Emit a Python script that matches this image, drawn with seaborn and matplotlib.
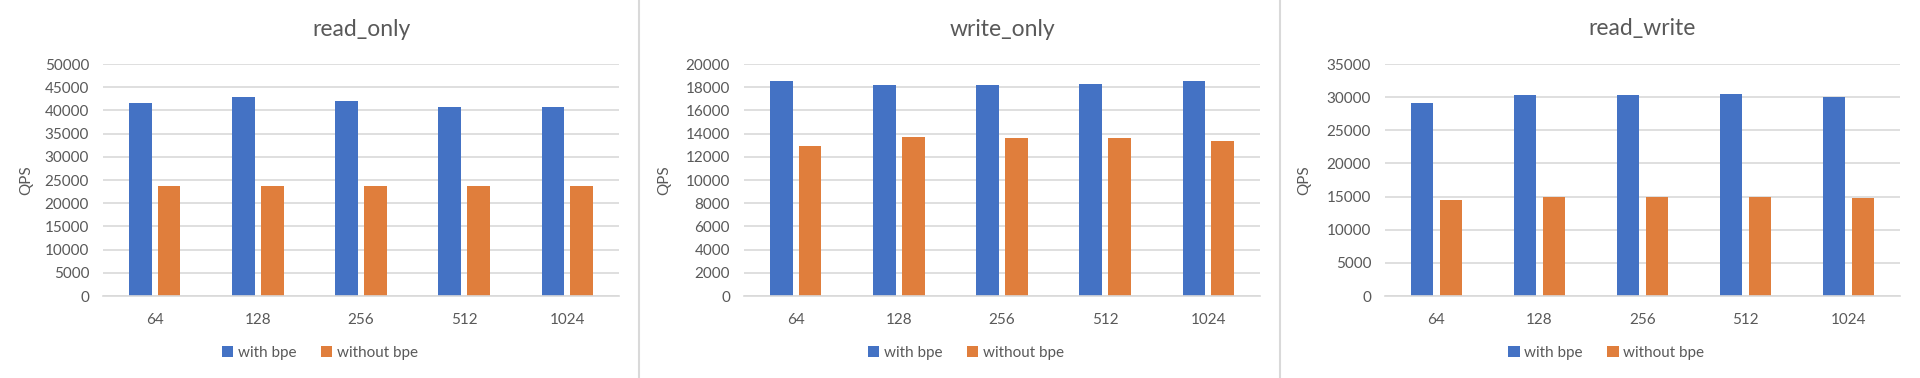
import numpy as np
import pandas as pd
import matplotlib
matplotlib.use("Agg")
import matplotlib.pyplot as plt
import seaborn as sns
from matplotlib.lines import Line2D

# ---- data ----
categories = ["64", "128", "256", "512", "1024"]
series_names = ["with bpe", "without bpe"]

read_only_with = [41500, 42800, 42100, 40800, 40800]
read_only_without = [23800, 23800, 23800, 23800, 23800]

write_only_with = [18560, 18220, 18220, 18300, 18560]
write_only_without = [12950, 13730, 13640, 13640, 13380]

read_write_with = [29160, 30370, 30370, 30520, 30070]
read_write_without = [14500, 14960, 14960, 14960, 14810]

panel_titles = ["read_only", "write_only", "read_write"]
y_max = [50000, 20000, 35000]
y_step = [5000, 2000, 5000]

panels = [
    (read_only_with, read_only_without),
    (write_only_with, write_only_without),
    (read_write_with, read_write_without),
]

colors = ["#4472C4", "#E07E3C"]
text_color = "#595959"
grid_color = "#D9D9D9"

sns.set_theme(style="white")
plt.rcParams["font.family"] = ["Lato", "DejaVu Sans"]

W, H = 1920, 378
fig = plt.figure(figsize=(W / 100, H / 100), dpi=100)
fig.patch.set_facecolor("white")

# axes boxes in pixels: (left, right, top, bottom)
boxes = [(103, 619, 64, 296), (744, 1260, 64, 296), (1385, 1900, 64, 296)]
ylabel_x = [33, 671, 1311]

for i, (box, (s_with, s_without)) in enumerate(zip(boxes, panels)):
    l, r, t, b = box
    ax = fig.add_axes([l / W, (H - b) / H, (r - l) / W, (b - t) / H])
    df = pd.DataFrame({
        "cat": categories * 2,
        "val": list(s_with) + list(s_without),
        "series": [series_names[0]] * 5 + [series_names[1]] * 5,
    })
    sns.barplot(data=df, x="cat", y="val", hue="series", order=categories,
                hue_order=series_names, palette=colors, width=0.56, gap=0.21,
                saturation=1, ax=ax, legend=True, edgecolor="none")
    ax.set_xlim(-0.5, 4.5)
    ax.set_ylim(0, y_max[i])
    ax.set_yticks(np.arange(0, y_max[i] + 1, y_step[i]))
    ax.yaxis.grid(True, color=grid_color, linewidth=1.2)
    ax.set_axisbelow(True)
    for sp in ["left", "right", "top"]:
        ax.spines[sp].set_visible(False)
    ax.spines["bottom"].set_color(grid_color)
    ax.spines["bottom"].set_linewidth(1.2)
    ax.tick_params(axis="both", length=0, labelsize=11, labelcolor=text_color)
    ax.tick_params(axis="y", pad=10)
    ax.tick_params(axis="x", pad=12)
    ax.set_xlabel("")
    ax.set_ylabel("QPS", color=text_color, fontsize=11)
    ax.yaxis.set_label_coords((ylabel_x[i] - l) / (r - l), 0.5)
    ax.text(0.5, (b - 29) / (b - t), panel_titles[i], transform=ax.transAxes,
            ha="center", va="center", fontsize=16.5, color=text_color)
    sns.move_legend(ax, "center", bbox_to_anchor=(0.42 if i == 0 else 0.43, (b - 353) / (b - t)),
                    ncol=2, frameon=False, title=None, fontsize=11,
                    handlelength=0.75, handleheight=0.75, handletextpad=0.3,
                    columnspacing=1.6, labelcolor=text_color)

# panel separators
for xp in [639, 1280]:
    fig.add_artist(Line2D([xp / W, xp / W], [0, 1], color=grid_color, linewidth=1.5,
                          transform=fig.transFigure))

fig.savefig("out.png", dpi=100, facecolor="white")
